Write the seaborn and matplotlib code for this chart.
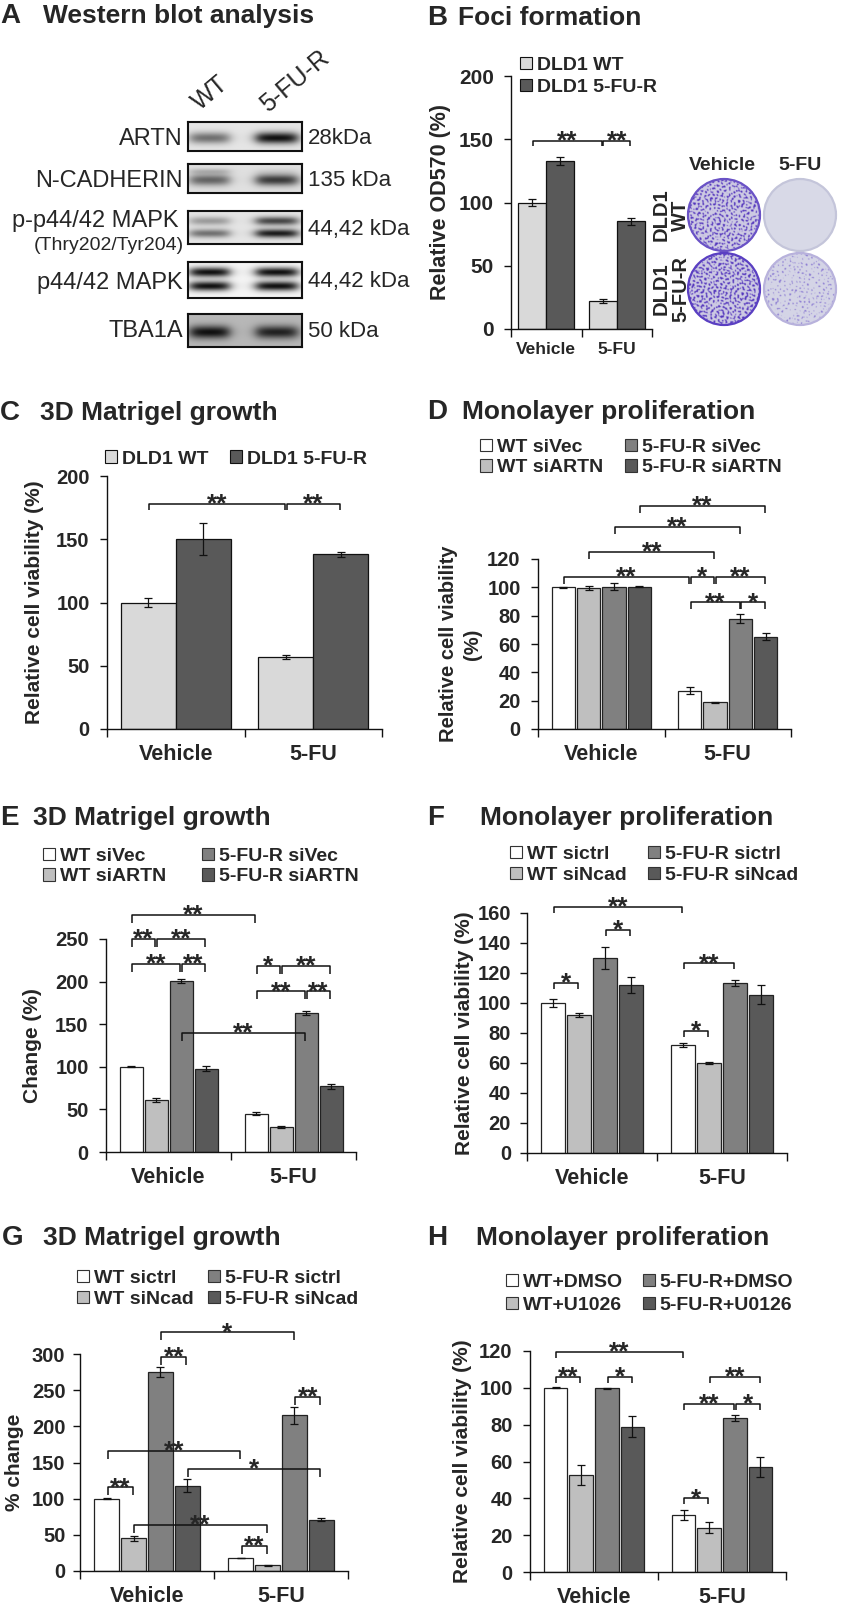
import numpy as np
import pandas as pd
import seaborn as sns
import matplotlib.pyplot as plt
from matplotlib.patches import Patch, Circle

W, H = 844, 1605

groups = ['Vehicle', '5-FU']

# A - western blot, band strength per lane (WT, 5-FU-R)
blot_proteins = ['ARTN', 'N-CADHERIN', 'p-p44/42 MAPK', 'p44/42 MAPK', 'TBA1A']
blot_kda = ['28kDa', '135 kDa', '44,42 kDa', '44,42 kDa', '50 kDa']
blot_upper = [[0.0, 0.0], [0.2, 0.05], [0.35, 0.75], [1.0, 1.0], [0.0, 0.0]]
blot_lower = [[0.55, 1.0], [0.6, 0.8], [0.55, 0.95], [1.0, 1.0], [1.0, 0.9]]
blot_bg = [0.9, 0.88, 0.9, 0.96, 0.72]

# B - foci formation
b_series = ['DLD1 WT', 'DLD1 5-FU-R']
b_means = [[100, 22], [133, 85]]
b_errs = [[2.5, 1.5], [3, 2.5]]
plate_cover = [[0.32, 0.0], [0.36, 0.14]]   # colony coverage, rows WT / 5-FU-R, cols Vehicle / 5-FU

# C - 3D matrigel
c_series = ['DLD1 WT', 'DLD1 5-FU-R']
c_means = [[100, 57], [150, 138]]
c_errs = [[3.5, 1.5], [12.8, 2]]

# D - monolayer, siARTN
d_series = ['WT siVec', 'WT siARTN', '5-FU-R siVec', '5-FU-R siARTN']
d_means = [[100, 27], [99.5, 19], [100.5, 78], [100.5, 65]]
d_errs = [[0.4, 2.5], [1.5, 0.3], [2.5, 3.5], [0.3, 2.5]]

# E - 3D matrigel, siARTN
e_series = ['WT siVec', 'WT siARTN', '5-FU-R siVec', '5-FU-R siARTN']
e_means = [[100, 45], [61, 29], [201, 163], [98, 77]]
e_errs = [[0.4, 1.5], [2.5, 1], [2.5, 2.5], [3, 3]]

# F - monolayer, siNcad
f_series = ['WT sictrl', 'WT siNcad', '5-FU-R sictrl', '5-FU-R siNcad']
f_means = [[100, 72], [92, 60], [130, 113.5], [112, 105.5]]
f_errs = [[2.8, 1.5], [1.5, 0.8], [7.2, 2], [5.1, 6.4]]

# G - 3D matrigel, siNcad
g_series = ['WT sictrl', 'WT siNcad', '5-FU-R sictrl', '5-FU-R siNcad']
g_means = [[100, 18], [45, 8], [275, 215], [118, 71]]
g_errs = [[0.5, 0.5], [3, 0.5], [7.4, 11.5], [8.5, 2.5]]

# H - monolayer, MEK inhibitor
h_series = ['WT+DMSO', 'WT+U1026', '5-FU-R+DMSO', '5-FU-R+U0126']
h_means = [[100, 31], [52.5, 24], [99.7, 83.5], [79, 57]]
h_errs = [[0.3, 2.7], [5.5, 3], [0.3, 1.7], [5.9, 5.3]]

# significance brackets: (series, group) -> (series, group), height, label
b_sig = [((0, 0), (0, 1), 149, '**'), ((0, 1), (1, 1), 149, '**')]
c_sig = [((0, 0), (0, 1), 178, '**'), ((0, 1), (1, 1), 178, '**')]
d_sig = [((3, 0), (3, 1), 157.6, '**'), ((2, 0), (2, 1), 142.6, '**'),
         ((1, 0), (1, 1), 125, '**'), ((0, 0), (0, 1), 107.5, '**'),
         ((0, 1), (1, 1), 107.5, '*'), ((1, 1), (3, 1), 107.5, '**'),
         ((0, 1), (2, 1), 89.4, '**'), ((2, 1), (3, 1), 89.4, '*')]
e_sig = [((0, 0), (0, 1), 278.7, '**'), ((0, 0), (1, 0), 250, '**'),
         ((1, 0), (3, 0), 250, '**'), ((0, 0), (2, 0), 221, '**'),
         ((2, 0), (3, 0), 221, '**'), ((0, 1), (1, 1), 218.5, '*'),
         ((1, 1), (3, 1), 218.5, '**'), ((0, 1), (2, 1), 188.4, '**'),
         ((2, 1), (3, 1), 188.4, '**'), ((2, 0), (2, 1), 139.5, '**')]
f_sig = [((0, 0), (0, 1), 164.2, '**'), ((2, 0), (3, 0), 148.7, '*'),
         ((0, 0), (1, 0), 113.5, '*'), ((0, 1), (2, 1), 126.4, '**'),
         ((0, 1), (1, 1), 81.3, '*')]
g_sig = [((2, 0), (2, 1), 330, '*'), ((2, 0), (3, 0), 296, '**'),
         ((2, 1), (3, 1), 241, '**'), ((0, 0), (0, 1), 166, '**'),
         ((3, 0), (3, 1), 141.7, '*'), ((0, 0), (1, 0), 115.5, '**'),
         ((1, 0), (1, 1), 64.2, '**'), ((0, 1), (1, 1), 34.6, '**')]
h_sig = [((0, 0), (0, 1), 119.7, '**'), ((0, 0), (1, 0), 106, '**'),
         ((2, 0), (3, 0), 106, '*'), ((1, 1), (3, 1), 106, '**'),
         ((0, 1), (2, 1), 91.3, '**'), ((2, 1), (3, 1), 91.3, '*'),
         ((0, 1), (1, 1), 40, '*')]

two_grays = ['#d9d9d9', '#595959']
four_grays = ['#ffffff', '#bfbfbf', '#808080', '#595959']

sns.set_style('ticks')
plt.rcParams['font.family'] = ['Liberation Sans', 'DejaVu Sans']
plt.rcParams['font.weight'] = 'bold'
plt.rcParams['axes.labelweight'] = 'bold'

fig = plt.figure(figsize=(W / 100, H / 100), dpi=100)


def px_rect(l, t, r, b):
    return [l / W, 1 - b / H, (r - l) / W, (b - t) / H]


def fx(x):
    return x / W


def fy(y):
    return 1 - y / H


def panel_title(letter, lx, text, tx, base):
    fig.text(fx(lx), fy(base), letter, fontsize=20, va='baseline')
    fig.text(fx(tx), fy(base), text, fontsize=19, va='baseline')


def legend_col(labels, colors, x, y, size=14, spacing=0.2, edge='#333333'):
    handles = [Patch(facecolor=c, edgecolor=edge, linewidth=0.8) for c in colors]
    fig.legend(handles, labels, loc='center left', bbox_to_anchor=(fx(x), fy(y)),
               frameon=False, borderpad=0, borderaxespad=0, handlelength=0.6,
               handleheight=0.6, handletextpad=0.25, labelspacing=spacing,
               prop={'size': size, 'weight': 'bold'})


def bar_panel(box, series, means, errs, colors, ymax, ystep, ylabel, ylab_x,
              gap=0.0, edge='#222222', tick_size=14.5, x_size=15.5, x_pad=10.5,
              ylab_size=15, ypad=7.5, linespacing=1.2):
    ax = fig.add_axes(px_rect(*box))
    df = pd.DataFrame({
        'group': [g for s in series for g in groups],
        'series': [s for s in series for g in groups],
        'value': [v for row in means for v in row],
    })
    sns.barplot(data=df, x='group', y='value', hue='series', order=groups,
                hue_order=series, palette=colors, width=0.8, gap=gap,
                errorbar=None, edgecolor=edge, linewidth=0.9, legend=False, ax=ax)
    pos = {}
    conts = list(ax.containers)
    for hi, cont in enumerate(conts):
        for bar in cont:
            xc = bar.get_x() + bar.get_width() / 2
            ci = int(round(xc))
            pos[(hi, ci)] = xc
            ax.errorbar(xc, bar.get_height(), yerr=errs[hi][ci], fmt='none',
                        ecolor='#111111', elinewidth=0.9, capsize=3, capthick=0.9)
    ax.set_xlim(-0.5, 1.5)
    ax.set_ylim(0, ymax)
    ax.set_yticks(np.arange(0, ymax + 1, ystep))
    ax.set_xticks([0, 1])
    ax.set_xticklabels(groups, fontsize=x_size)
    ax.set_xticks([-0.5, 0.5, 1.5], minor=True)
    ax.tick_params(axis='x', which='major', length=0, pad=x_pad)
    ax.tick_params(axis='x', which='minor', length=6, width=1, direction='out', color='#111111')
    ax.tick_params(axis='y', length=5, width=1, direction='out', pad=ypad,
                   labelsize=tick_size, color='#111111')
    sns.despine(ax=ax)
    for s in ['left', 'bottom']:
        ax.spines[s].set_linewidth(1)
        ax.spines[s].set_color('#111111')
    ax.set_xlabel('')
    ax.set_ylabel(ylabel, fontsize=ylab_size, linespacing=linespacing)
    ax.yaxis.set_label_coords((ylab_x - box[0]) / (box[2] - box[0]), 0.5)
    return ax, pos


def brackets(ax, pos, items, drop_px=7, size=19):
    y0, y1 = ax.get_ylim()
    bb = ax.get_position()
    yu = (y1 - y0) / (bb.height * H)
    xu = 1.5 / (bb.width * W)
    for a, b, y, txt in items:
        xa, xb = pos[a] + xu, pos[b] - xu
        d = drop_px * yu
        ax.plot([xa, xa, xb, xb], [y - d, y, y, y - d], color='#111111', lw=1.1,
                clip_on=False, solid_capstyle='butt')
        ax.annotate(txt, xy=((xa + xb) / 2, y), xytext=(0, -5.5), textcoords='offset points',
                    ha='center', va='baseline', fontsize=size, annotation_clip=False)


def plate_field(n=144):
    # deterministic speckle made of overlapping plane waves
    yy, xx = np.mgrid[0:n, 0:n] / 2.0
    field = np.zeros((n, n))
    for j in range(26):
        ang = j * 2.39996
        wl = 2.4 + 3.2 * ((j * 0.6180339887) % 1)
        k = 2 * np.pi / wl
        field += np.sin(k * (xx * np.cos(ang) + yy * np.sin(ang)) + j * 1.7)
    return field / np.sqrt(13)


# ---------------- A: western blot ----------------
panel_title('A', 0, 'Western blot analysis', 43, 23)
blot_rows = [(122, 151), (164, 193), (211, 244), (262, 298), (314, 347)]
label_base = [145, 186.7, 226.7, 289.3, 337.3]
kda_base = [144, 186, 235, 287.3, 336.7]
for i, (top, bot) in enumerate(blot_rows):
    ax = fig.add_axes(px_rect(188, top, 302, bot))
    ys = np.linspace(0, 1, 80)[:, None]
    xs = np.linspace(0, 1, 240)[None, :]
    dark = np.zeros((80, 240))
    double = i in (2, 3)
    for lane, (xc, hw) in enumerate([(0.19, 0.17), (0.78, 0.18)]):
        prof = 1 / (1 + np.exp((np.abs(xs - xc) - hw) / 0.03))
        if double:
            band = (blot_upper[i][lane] * np.exp(-((ys - 0.3) / 0.13) ** 2)
                    + blot_lower[i][lane] * np.exp(-((ys - 0.68) / 0.13) ** 2))
        else:
            band = (blot_upper[i][lane] * np.exp(-((ys - 0.25) / 0.1) ** 2)
                    + blot_lower[i][lane] * np.exp(-((ys - 0.55) / 0.2) ** 2))
        dark += band * prof
    img = blot_bg[i] - np.clip(dark, 0, 1) * (blot_bg[i] - 0.06)
    ax.imshow(img, cmap='gray', vmin=0, vmax=1, aspect='auto',
              interpolation='bilinear', extent=(0, 1, 1, 0))
    ax.set_xticks([])
    ax.set_yticks([])
    for s in ax.spines.values():
        s.set_linewidth(1.5)
        s.set_color('#111111')
    rx = 179 if i == 2 else 183
    fig.text(fx(rx), fy(label_base[i]), blot_proteins[i], fontsize=17,
             fontweight='normal', ha='right', va='baseline')
    fig.text(fx(308), fy(kda_base[i]), blot_kda[i], fontsize=16,
             fontweight='normal', ha='left', va='baseline')
fig.text(fx(184), fy(250), '(Thry202/Tyr204)', fontsize=14, fontweight='normal',
         ha='right', va='baseline')
fig.text(fx(200), fy(111), 'WT', fontsize=18, fontweight='normal', rotation=40,
         rotation_mode='anchor', ha='left', va='baseline')
fig.text(fx(268), fy(113), '5-FU-R', fontsize=18, fontweight='normal', rotation=40,
         rotation_mode='anchor', ha='left', va='baseline')

# ---------------- B: foci formation ----------------
panel_title('B', 427, 'Foci formation', 458, 25)
ax, pos = bar_panel((511, 76, 652, 329), b_series, b_means, b_errs, two_grays,
                    200, 50, 'Relative OD570 (%)', 451, edge='#111111',
                    tick_size=15, x_size=12.5, x_pad=9, ylab_size=15.5)
brackets(ax, pos, b_sig, drop_px=5)
legend_col(b_series, two_grays, 520, 76.5, spacing=0.27, edge='#111111')

# plates
pax = fig.add_axes(px_rect(680, 170, 845, 332))
pax.set_xlim(680, 845)
pax.set_ylim(332, 170)
pax.axis('off')
field = plate_field()
plate_xy = [[(724, 215), (800, 215)], [(724, 289), (800, 289)]]
plate_style = [[('#5436bd', '#cdcae3', '#6a52c6'), ('#8f7fd0', '#d8d9e7', '#c4c5da')],
               [('#5436bd', '#cdcae3', '#5a3fc2'), ('#8a7ad2', '#d5d5e6', '#b8b2dc')]]
for r in range(2):
    for c in range(2):
        cx, cy = plate_xy[r][c]
        col, bg, rim = plate_style[r][c]
        rgb_bg = np.array(plt.matplotlib.colors.to_rgb(bg))
        rgb_col = np.array(plt.matplotlib.colors.to_rgb(col))
        cover = plate_cover[r][c]
        if cover > 0:
            fld = np.roll(field, (37 * r + 11 * c, 53 * c + 7 * r), axis=(0, 1))
            thr = np.quantile(fld, 1 - cover)
            mix = np.clip((fld - thr) / 0.5, 0, 1)[:, :, None]
        else:
            mix = np.zeros(field.shape + (1,))
        img = rgb_bg * (1 - mix) + rgb_col * mix
        im = pax.imshow(img, extent=(cx - 36, cx + 36, cy + 36, cy - 36),
                        interpolation='bilinear')
        clip = Circle((cx, cy), 36, transform=pax.transData)
        im.set_clip_path(clip)
        pax.add_patch(Circle((cx, cy), 36, facecolor='none', edgecolor=rim, linewidth=1.6))
pax.set_xlim(680, 845)
pax.set_ylim(332, 170)
fig.text(fx(722), fy(170), 'Vehicle', fontsize=14, ha='center', va='baseline')
fig.text(fx(800), fy(170), '5-FU', fontsize=14, ha='center', va='baseline')
fig.text(fx(671), fy(215), 'DLD1\nWT', fontsize=14.5, rotation=90, ha='center',
         va='center', linespacing=1.0)
fig.text(fx(671), fy(289), 'DLD1\n5-FU-R', fontsize=14.5, rotation=90, ha='center',
         va='center', linespacing=1.0)

# ---------------- C ----------------
panel_title('C', 0, '3D Matrigel growth', 40, 420)
ax, pos = bar_panel((107, 476, 382, 729), c_series, c_means, c_errs, two_grays,
                    200, 50, 'Relative cell viability (%)', 44, edge='#111111')
brackets(ax, pos, c_sig, drop_px=6)
legend_col(c_series[:1], two_grays[:1], 105, 459, edge='#111111')
legend_col(c_series[1:], two_grays[1:], 230, 459, edge='#111111')

# ---------------- D ----------------
panel_title('D', 427, 'Monolayer proliferation', 462, 419)
ax, pos = bar_panel((538, 559, 791, 729), d_series, d_means, d_errs, four_grays,
                    120, 20, 'Relative cell viability\n(%)', 482, gap=0.08,
                    tick_size=14.5, ylab_size=14.5, linespacing=1.35)
brackets(ax, pos, d_sig)
legend_col(d_series[:2], four_grays[:2], 480, 457.5)
legend_col(d_series[2:], four_grays[2:], 625, 457.5)

# ---------------- E ----------------
panel_title('E', 0, '3D Matrigel growth', 33, 825)
ax, pos = bar_panel((106, 939, 356, 1152), e_series, e_means, e_errs, four_grays,
                    250, 50, 'Change (%)', 42, gap=0.08)
brackets(ax, pos, e_sig, drop_px=8)
legend_col(e_series[:2], four_grays[:2], 43, 866.5)
legend_col(e_series[2:], four_grays[2:], 202, 866.5)

# ---------------- F ----------------
panel_title('F', 427, 'Monolayer proliferation', 480, 825)
ax, pos = bar_panel((527, 913, 787, 1153), f_series, f_means, f_errs, four_grays,
                    160, 20, 'Relative cell viability (%)', 474, gap=0.08, ypad=6.5)
brackets(ax, pos, f_sig, drop_px=6)
legend_col(f_series[:2], four_grays[:2], 510, 865)
legend_col(f_series[2:], four_grays[2:], 648, 865)

# ---------------- G ----------------
panel_title('G', 2, '3D Matrigel growth', 43, 1245)
ax, pos = bar_panel((80, 1354, 348, 1571), g_series, g_means, g_errs, four_grays,
                    300, 50, '% change', 24, gap=0.08, ypad=5.5)
brackets(ax, pos, g_sig, drop_px=8)
legend_col(g_series[:2], four_grays[:2], 77, 1289)
legend_col(g_series[2:], four_grays[2:], 208, 1289)

# ---------------- H ----------------
panel_title('H', 427, 'Monolayer proliferation', 476, 1245)
ax, pos = bar_panel((530, 1351, 786, 1572), h_series, h_means, h_errs, four_grays,
                    120, 20, 'Relative cell viability (%)', 472, gap=0.08)
brackets(ax, pos, h_sig, drop_px=6)
legend_col(h_series[:2], four_grays[:2], 506, 1294, spacing=0.3)
legend_col(h_series[2:], four_grays[2:], 643, 1294, spacing=0.3)

fig.savefig('out.png', dpi=100)
